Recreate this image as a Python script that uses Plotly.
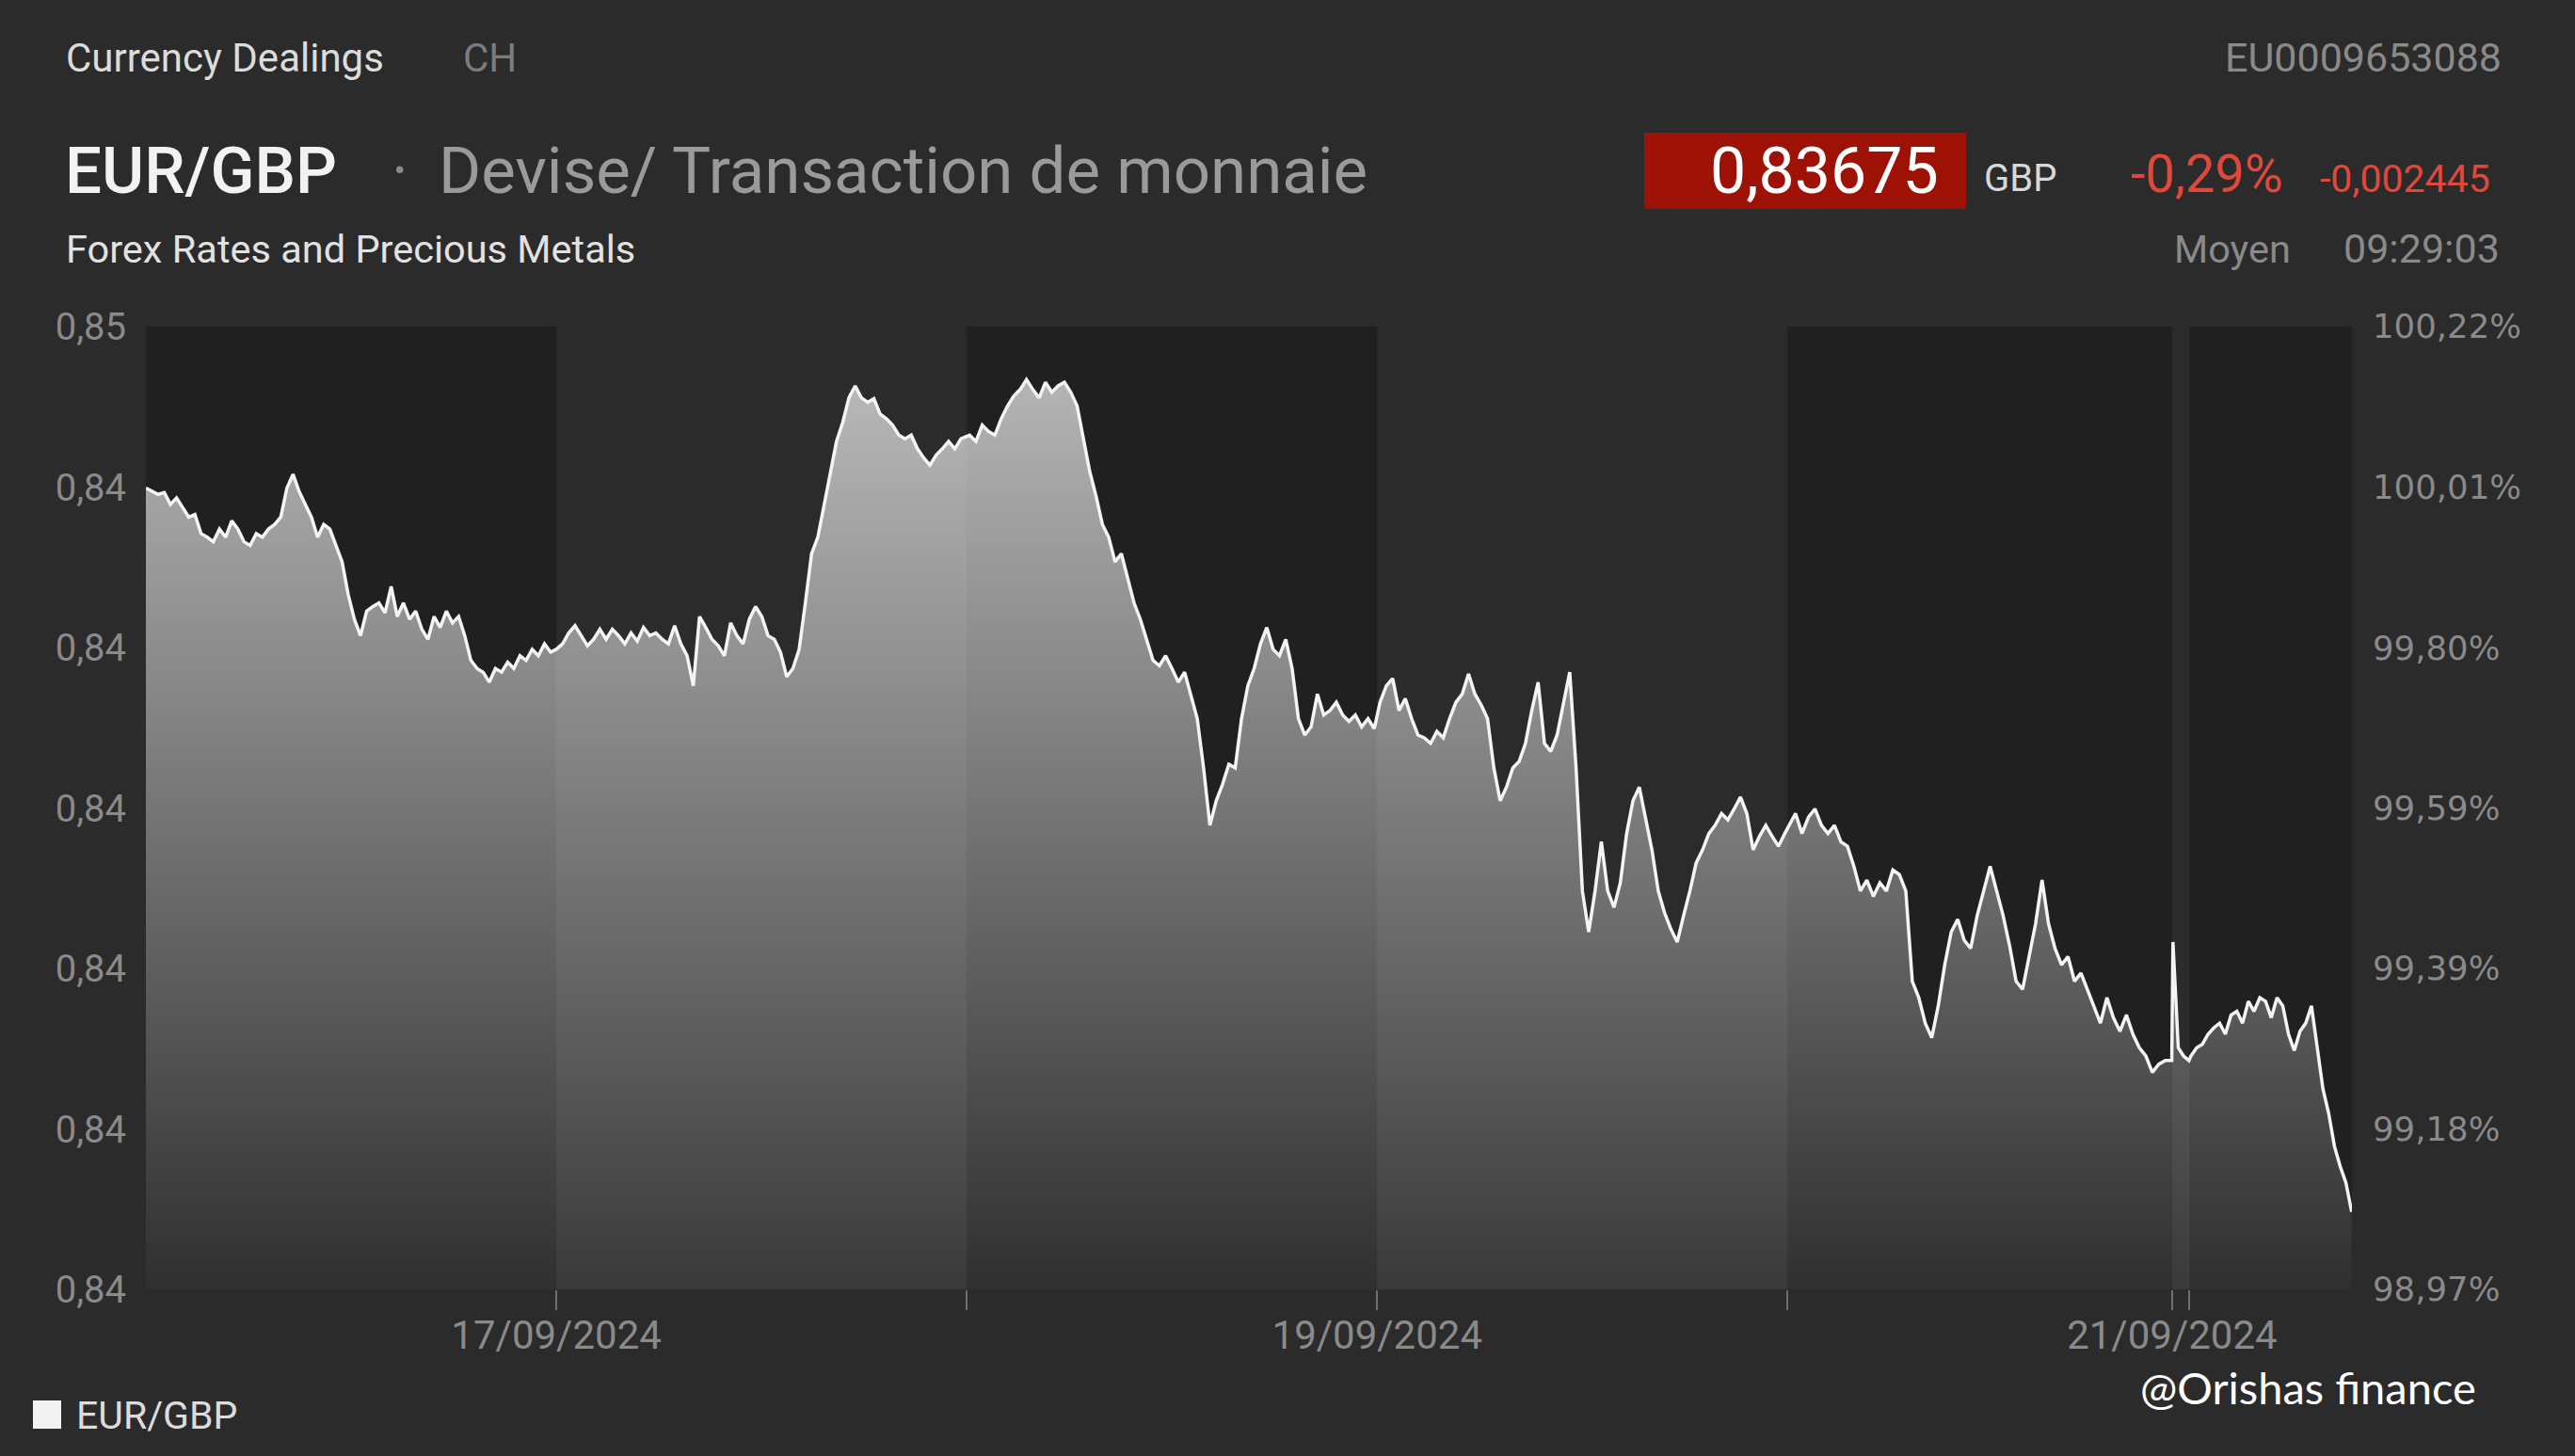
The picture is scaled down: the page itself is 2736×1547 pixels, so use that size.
import pandas as pd
import plotly.graph_objects as go

# ---------------- data ----------------
d16 = [0.84469, 0.84465, 0.84462, 0.84464, 0.84451, 0.84458, 0.84447, 0.84437, 0.84440, 0.84419,
       0.84415, 0.84410, 0.84424, 0.84415, 0.84433, 0.84424, 0.84410, 0.84406, 0.84419, 0.84415,
       0.84424, 0.84429, 0.84437, 0.84469, 0.84484, 0.84465, 0.84451, 0.84437, 0.84415, 0.84429,
       0.84424, 0.84406, 0.84388, 0.84352, 0.84325, 0.84307, 0.84334, 0.84339, 0.84343, 0.84332,
       0.84361, 0.84328, 0.84343, 0.84325, 0.84334, 0.84314, 0.84303, 0.84328, 0.84316, 0.84334,
       0.84321, 0.84328, 0.84307, 0.84280, 0.84271, 0.84267, 0.84256, 0.84271, 0.84267, 0.84278,
       0.84271, 0.84285, 0.84280, 0.84292, 0.84285, 0.84298, 0.84289]
d17 = [0.84292, 0.84298, 0.84310, 0.84318, 0.84307, 0.84296, 0.84303, 0.84314, 0.84303, 0.84314,
       0.84307, 0.84298, 0.84310, 0.84301, 0.84316, 0.84307, 0.84310, 0.84303, 0.84298, 0.84318,
       0.84298, 0.84285, 0.84252, 0.84328, 0.84316, 0.84303, 0.84296, 0.84285, 0.84321, 0.84307,
       0.84298, 0.84325, 0.84339, 0.84328, 0.84307, 0.84303, 0.84289, 0.84262, 0.84271, 0.84292,
       0.84343, 0.84397, 0.84415, 0.84451, 0.84487, 0.84520, 0.84541, 0.84568, 0.84581, 0.84568,
       0.84563, 0.84567, 0.84550, 0.84545, 0.84538, 0.84527, 0.84523, 0.84527, 0.84512, 0.84502,
       0.84494, 0.84505, 0.84512, 0.84520, 0.84512, 0.84523]
d18 = [0.84527, 0.84520, 0.84538, 0.84531, 0.84527, 0.84545, 0.84559, 0.84570, 0.84577, 0.84588,
       0.84577, 0.84568, 0.84585, 0.84574, 0.84581, 0.84585, 0.84574, 0.84559, 0.84523, 0.84487,
       0.84460, 0.84429, 0.84415, 0.84388, 0.84397, 0.84370, 0.84343, 0.84325, 0.84303, 0.84280,
       0.84274, 0.84285, 0.84271, 0.84256, 0.84267, 0.84243, 0.84216, 0.84162, 0.84099, 0.84126,
       0.84144, 0.84166, 0.84162, 0.84216, 0.84252, 0.84271, 0.84298, 0.84316, 0.84292, 0.84285,
       0.84303, 0.84271, 0.84216, 0.84198, 0.84207, 0.84243, 0.84220, 0.84225, 0.84234, 0.84220,
       0.84213, 0.84220, 0.84207, 0.84216, 0.84205]
d19 = [0.84234, 0.84252, 0.84260, 0.84225, 0.84238, 0.84216, 0.84198, 0.84195, 0.84189, 0.84202,
       0.84195, 0.84216, 0.84234, 0.84243, 0.84265, 0.84243, 0.84231, 0.84216, 0.84162, 0.84126,
       0.84141, 0.84162, 0.84169, 0.84189, 0.84225, 0.84256, 0.84189, 0.84180, 0.84198, 0.84231,
       0.84267, 0.84162, 0.84027, 0.83982, 0.84027, 0.84081, 0.84027, 0.84009, 0.84036,
       0.84090, 0.84126, 0.84141, 0.84105, 0.84072, 0.84027, 0.84003, 0.83985, 0.83971, 0.84000,
       0.84027, 0.84058, 0.84072, 0.84090, 0.84099, 0.84112, 0.84105, 0.84117, 0.84130, 0.84112,
       0.84072, 0.84087, 0.84099, 0.84087, 0.84076, 0.84090]
d20 = [0.84099, 0.84112, 0.84090, 0.84108, 0.84117, 0.84099, 0.84090, 0.84099, 0.84081, 0.84076,
       0.84054, 0.84027, 0.84039, 0.84021, 0.84036, 0.84027, 0.84050, 0.84045, 0.84027, 0.83928,
       0.83910, 0.83882, 0.83866, 0.83901, 0.83946, 0.83982, 0.83996, 0.83973, 0.83964, 0.84000,
       0.84027, 0.84054, 0.84027, 0.84000, 0.83967, 0.83928, 0.83919, 0.83955, 0.83991, 0.84039,
       0.83991, 0.83964, 0.83946, 0.83955, 0.83928, 0.83937, 0.83919, 0.83901, 0.83882, 0.83910,
       0.83888, 0.83873, 0.83891, 0.83870, 0.83855, 0.83846, 0.83828, 0.83837, 0.83841, 0.83841]
d22 = [0.83971, 0.83855, 0.83846, 0.83841]
d23 = [0.83846, 0.83855, 0.83859, 0.83870, 0.83877, 0.83882, 0.83870, 0.83891, 0.83895, 0.83882,
       0.83906, 0.83895, 0.83910, 0.83906, 0.83888, 0.83910, 0.83901, 0.83870, 0.83852, 0.83873,
       0.83882, 0.83901, 0.83855, 0.83810, 0.83783, 0.83747, 0.83725, 0.83707, 0.83675]

# trading sessions (start, end) matching the series above
sessions = [("2024-09-16 00:00", "2024-09-16 23:40"),
            ("2024-09-17 00:00", "2024-09-17 23:40"),
            ("2024-09-18 00:10", "2024-09-18 23:50"),
            ("2024-09-19 00:10", "2024-09-19 23:50"),
            ("2024-09-20 00:05", "2024-09-20 22:28"),
            ("2024-09-22 23:02", "2024-09-22 23:58"),
            ("2024-09-23 00:05", "2024-09-23 09:29")]
series = [d16, d17, d18, d19, d20, d22, d23]

y_tick_values = [0.83590, 0.83766, 0.83942, 0.84118, 0.84294, 0.84470, 0.84646]
y_tick_labels = ["0,84", "0,84", "0,84", "0,84", "0,84", "0,84", "0,85"]
pct_tick_values = [98.97, 99.178, 99.387, 99.595, 99.803, 100.012, 100.22]
pct_tick_labels = ["98,97%", "99,18%", "99,39%", "99,59%", "99,80%", "100,01%", "100,22%"]
x_tick_values = ["2024-09-17 00:00", "2024-09-18 00:00", "2024-09-19 00:00", "2024-09-20 00:00",
                 "2024-09-20 22:29", "2024-09-23 00:00"]
x_tick_labels = ["17/09/2024", "", "19/09/2024", "", "21/09/2024", ""]
dark_days = [("2024-09-16 00:00", "2024-09-17 00:00"), ("2024-09-18 00:00", "2024-09-19 00:00"),
             ("2024-09-20 00:00", "2024-09-20 22:30"), ("2024-09-23 00:00", "2024-09-23 09:30")]

# ---------------- build ----------------
times, values = [], []
for (s, e), vals in zip(sessions, series):
    times += list(pd.date_range(s, e, periods=len(vals)))
    values += vals

W, H = 2736, 1547
L, R, T, B = 155, 237, 347, 177
PW, PH = W - L - R, H - T - B
def px(x): return (x - L) / PW
def py(y): return 1 - (y - T) / PH

BG = "#2b2b2b"
fig = go.Figure()
fig.add_trace(go.Scatter(
    x=times, y=values, mode="lines", name="EUR/GBP",
    line=dict(color="#f4f4f4", width=3.5),
    fill="tozeroy",
    fillgradient=dict(type="vertical",
                      colorscale=[[0, "rgba(255,255,255,0.07)"], [1, "rgba(255,255,255,0.70)"]],
                      start=y_tick_values[0], stop=y_tick_values[-1]),
    hoverinfo="skip", showlegend=False))
# empty trace so the right-hand percentage axis is drawn
fig.add_trace(go.Scatter(x=[None], y=[None], yaxis="y2", mode="lines",
                         hoverinfo="skip", showlegend=False))

shapes = []
for a, b in dark_days:
    shapes.append(dict(type="rect", xref="x", yref="paper", x0=a, x1=b, y0=0, y1=1,
                       fillcolor="#202020", line=dict(width=0), layer="below"))
# price box
shapes.append(dict(type="rect", xref="paper", yref="paper", x0=px(1747), x1=px(2089),
                   y0=py(222), y1=py(141), fillcolor="#9e1206", line=dict(width=0)))
# legend swatch
shapes.append(dict(type="rect", xref="paper", yref="paper", x0=px(35), x1=px(65),
                   y0=py(1518), y1=py(1488), fillcolor="#f2f2f2", line=dict(width=0)))

def txt(text, x, y, size, color, anchor="left", family="Roboto", weight=None):
    f = dict(family=family, size=size, color=color)
    if weight:
        f["weight"] = weight
    return dict(text=text, x=px(x), y=py(y), xref="paper", yref="paper", showarrow=False,
                xanchor=anchor, yanchor="middle", font=f)

annotations = [
    txt("Currency Dealings", 68, 61, 42, "#dcdcdc"),
    txt("CH", 490, 61, 42, "#7c7c7c"),
    txt("EU0009653088", 2660, 61, 43, "#8a8a8a", anchor="right"),
    txt("EUR/GBP", 67, 182, 69, "#f2f2f2", weight=500),
    txt("·", 414, 182, 68, "#8a8a8a"),
    txt("Devise/ Transaction de monnaie", 464, 182, 69, "#9a9a9a"),
    txt("Forex Rates and Precious Metals", 68, 264, 41.5, "#e2e2e2"),
    txt("0,83675", 2062, 182, 68, "#ffffff", anchor="right"),
    txt("GBP", 2106, 190, 40, "#d8d8d8"),
    txt("-0,29%", 2262, 185, 56, "#e0483b"),
    txt("-0,002445", 2463, 190, 41, "#e0483b"),
    txt("Moyen", 2308, 264, 41.5, "#8a8a8a"),
    txt("09:29:03", 2658, 264, 43, "#8a8a8a", anchor="right"),
    txt("EUR/GBP", 79, 1504, 41, "#dcdcdc"),
    txt("@Orishas finance", 2272, 1474, 47, "#ffffff", family="Lato"),
]

fig.update_layout(
    width=W, height=H, margin=dict(l=L, r=R, t=T, b=B, autoexpand=False),
    paper_bgcolor=BG, plot_bgcolor=BG,
    shapes=shapes, annotations=annotations, showlegend=False,
    xaxis=dict(type="date", range=["2024-09-16 00:00", "2024-09-23 09:30"],
               rangebreaks=[dict(bounds=["2024-09-20 22:30", "2024-09-22 23:00"])],
               tickmode="array", tickvals=x_tick_values, ticktext=x_tick_labels,
               ticks="outside", ticklen=21, tickwidth=2, tickcolor="#6e6e6e",
               tickfont=dict(family="Roboto", size=42, color="#8a8a8a"),
               ticklabelstandoff=-9,
               showgrid=False, zeroline=False, showline=False, automargin=False),
    yaxis=dict(range=[y_tick_values[0], y_tick_values[-1]], tickmode="array",
               tickvals=y_tick_values, ticktext=y_tick_labels, ticks="",
               tickfont=dict(family="Roboto", size=40, color="#8a8a8a"),
               ticklabelstandoff=20,
               showgrid=False, zeroline=False, showline=False, automargin=False),
    yaxis2=dict(overlaying="y", side="right", range=[pct_tick_values[0], pct_tick_values[-1]],
                tickmode="array", tickvals=pct_tick_values, ticktext=pct_tick_labels, ticks="",
                tickfont=dict(family="DejaVu Sans", size=35.5, color="#8a8a8a"),
                ticklabelstandoff=21,
                showgrid=False, zeroline=False, showline=False, automargin=False),
)

fig.write_html("out.html", config={"displayModeBar": False},
               post_script="document.body.style.margin='0';")
